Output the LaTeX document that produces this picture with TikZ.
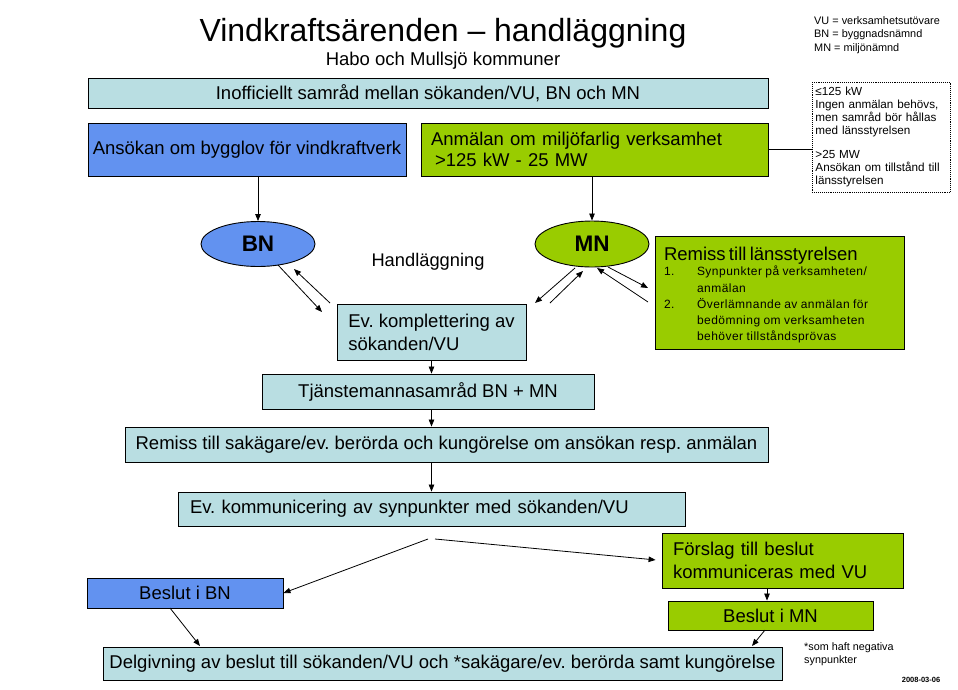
\documentclass[tikz,border=0pt]{standalone}
\usepackage{fontspec}
\setmainfont{Liberation Sans}
\usetikzlibrary{arrows.meta,calc,shapes.geometric}
\definecolor{lblue}{RGB}{185,222,226}
\definecolor{bblue}{RGB}{98,146,240}
\definecolor{ggreen}{RGB}{153,204,0}
\newcommand\fsz[2]{\fontsize{#1}{#2}\selectfont}
\frenchspacing
\begin{document}
\frenchspacing
\begin{tikzpicture}[x=1pt,y=-1pt,
  box/.style={draw=black,line width=0.9pt,inner sep=0pt,align=center,font=\fsz{18.5}{21}},
  lb/.style={box,fill=lblue},
  bl/.style={box,fill=bblue},
  gr/.style={box,fill=ggreen},
  ell/.style={ellipse,draw=black,line width=0.9pt,inner sep=0pt,font=\bfseries\fsz{22.5}{26}},
  arr/.style={-{Triangle[length=7pt,width=5.5pt]},line width=0.8pt},
  plain/.style={inner sep=0pt,align=left}]
\fill[white] (0,0) rectangle (958,689);
\useasboundingbox (0,0) rectangle (958,689);

% titles
\node[plain,font=\fsz{32}{36}] (title) at (443,33) {Vindkraftsärenden – handläggning};
\node[plain,font=\fsz{18.5}{21}] (sub) at (443,61) {Habo och Mullsjö kommuner};
\node[plain,anchor=north west,font=\fsz{10.9}{13.5}] (legend) at (814,16) {VU = verksamhetsutövare\\BN = byggnadsnämnd\\MN = miljönämnd};

% top boxes
\node[lb,minimum width=680pt,minimum height=30pt] (inof) at (428,93) {Inofficiellt samråd mellan sökanden/VU, BN och MN};
\node[bl,minimum width=318pt,minimum height=53pt] (bygg) at (247,149.5) {Ansökan om bygglov för vindkraftverk};
\node[gr,minimum width=347pt,minimum height=53pt,text width=327pt,inner xsep=10pt,align=left] (anm) at (594.5,149.5) {Anmälan om miljöfarlig verksamhet\\\hspace*{4pt}>125 kW - 25 MW};
\node[draw=black,densely dotted,line width=0.9pt,anchor=north west,minimum width=138pt,minimum height=110pt,text width=132pt,inner xsep=3pt,inner ysep=0pt,align=left,font=\fsz{11.7}{13}] (note) at (812,82) {≤125 kW\\Ingen anmälan behövs,\\men samråd bör hållas\\med länsstyrelsen\\[11pt]>25 MW\\Ansökan om tillstånd till\\länsstyrelsen};
\draw[line width=0.8pt] (anm.east) -- (anm.east -| note.west);

% ellipses
\node[ell,fill=bblue,minimum width=114pt,minimum height=45pt] (bn) at (258,244) {BN};
\node[ell,fill=ggreen,minimum width=114pt,minimum height=46pt] (mn) at (592,244) {MN};
\draw[arr] (bygg.south -| bn.north) -- (bn.north);
\draw[arr] (anm.south -| mn.north) -- (mn.north);

\node[plain,font=\fsz{18.3}{21}] (handl) at (428,262) {Handläggning};

% remiss lansstyrelsen
\node[gr,minimum width=249pt,minimum height=113pt] (remlst) at (779.5,292.5) {};
\node[plain,text width=231pt,yshift=-4pt] (remtxt) at (remlst.center) {{\fsz{18.5}{19}Remiss till länsstyrelsen}\\[-1pt]
{\fsz{12}{16.3}\addfontfeature{LetterSpace=4}\begin{tabular}{@{}p{33pt}@{}l@{}}1.&Synpunkter på verksamheten/\\&anmälan\\2.&Överlämnande av anmälan för\\&bedömning om verksamheten\\&behöver tillståndsprövas\end{tabular}}};

% komplettering
\node[lb,minimum width=189pt,minimum height=56pt,align=left,font=\fsz{18.5}{23}] (komp) at (431.5,332) {Ev. komplettering av\\sökanden/VU};

% arrows BN <-> komp
\coordinate (b1s) at (278,265); \coordinate (b1e) at (322,312);
\coordinate (b2s) at (330,303); \coordinate (b2e) at (294,269);
\draw[arr] (b1s) -- (b1e);
\draw[arr] (b2s) -- (b2e);
% arrows MN
\coordinate (m1s) at (575,268); \coordinate (m1e) at (535,303);
\coordinate (m2s) at (550,303); \coordinate (m2e) at (583,271);
\coordinate (m3s) at (648,302); \coordinate (m3e) at (597,268);
\coordinate (m4s) at (608,267); \coordinate (m4e) at (648,288);
\draw[arr] (m1s) -- (m1e);
\draw[arr] (m2s) -- (m2e);
\draw[arr] (m3s) -- (m3e);
\draw[arr] (m4s) -- (m4e);

% middle chain
\node[lb,minimum width=332pt,minimum height=35pt] (tjanst) at (428,391.5) {Tjänstemannasamråd BN + MN};
\node[lb,minimum width=643pt,minimum height=35pt] (remsak) at (446.5,444.5) {Remiss till sakägare/ev. berörda och kungörelse om ansökan resp. anmälan};
\node[lb,minimum width=507pt,minimum height=34pt,text width=483pt,inner xsep=12pt,align=left] (kommun) at (431.5,509) {Ev. kommunicering av synpunkter med sökanden/VU};
\draw[arr] (komp.south) -- (komp.south |- tjanst.north);
\draw[arr] (komp.south |- tjanst.south) -- (komp.south |- remsak.north);
\draw[arr] (komp.south |- remsak.south) -- (komp.south |- kommun.north);

% decisions
\node[gr,minimum width=241pt,minimum height=55pt,text width=219pt,inner xsep=11pt,align=left,font=\fsz{18.5}{23}] (forslag) at (782.5,560.5) {Förslag till beslut\\kommuniceras med VU};
\node[gr,minimum width=205pt,minimum height=29pt] (beslutmn) at (770.5,615.5) {Beslut i MN};
\node[bl,minimum width=196pt,minimum height=30pt] (beslutbn) at (185,593) {Beslut i BN};
\node[lb,minimum width=679pt,minimum height=33pt] (delg) at (442.5,663.5) {Delgivning av beslut till sökanden/VU och *sakägare/ev. berörda samt kungörelse};

\coordinate (sl) at (428,539); \coordinate (sr) at (435,539);
\draw[arr] (sl) -- (beslutbn.east);
\draw[arr,shorten >=6pt] (sr) -- (forslag.west);
\draw[arr] (forslag.south -| 767,0) -- (beslutmn.north -| 767,0);
\coordinate (bbs) at (170,608); \coordinate (bbe) at (200,646);
\draw[arr] (bbs) -- (bbe);
\coordinate (bms) at (765,630); \coordinate (bme) at (752,646);
\draw[arr] (bms) -- (bme);

\node[plain,anchor=north west,font=\fsz{10.8}{13}] (foot) at (804,642) {*som haft negativa\\synpunkter};
\node[plain,font=\bfseries\fsz{7.5}{9}] (date) at (921,680) {2008-03-06};
\end{tikzpicture}
\end{document}
